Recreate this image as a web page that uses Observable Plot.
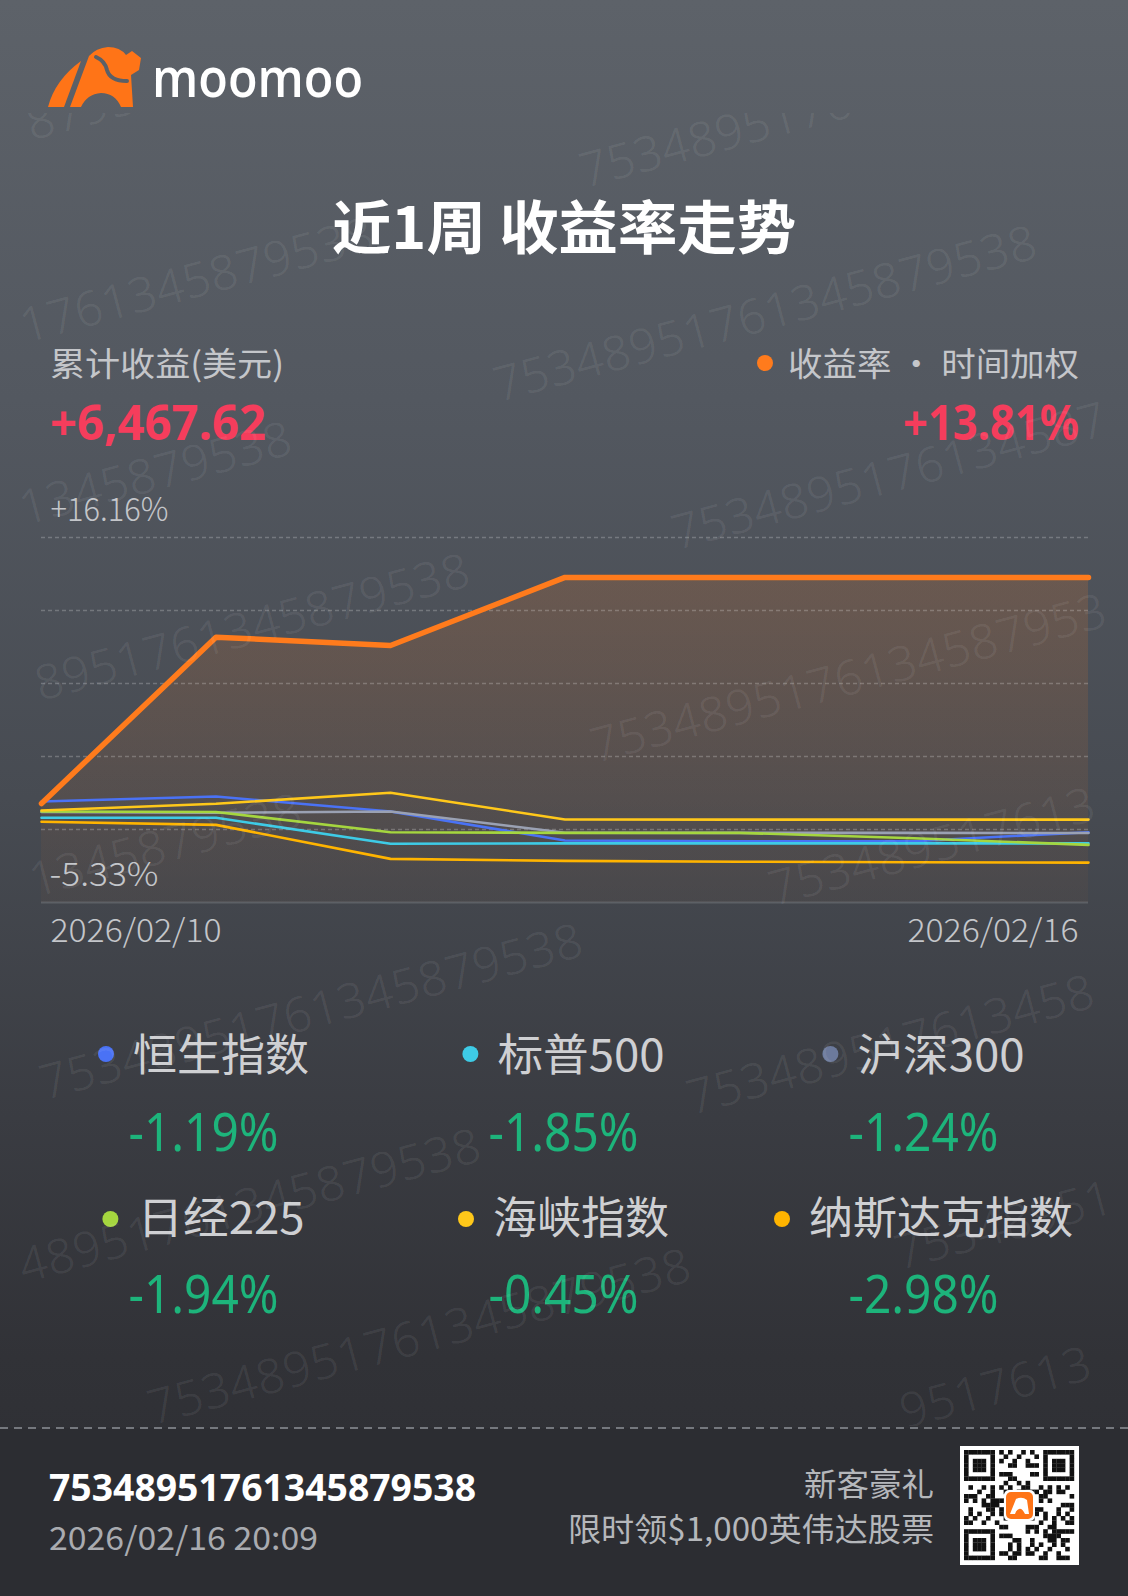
<!DOCTYPE html>
<html><head><meta charset="utf-8">
<script src="https://cdn.jsdelivr.net/npm/d3@7"></script>
<script src="https://cdn.jsdelivr.net/npm/@observablehq/plot@0.6"></script>
<style>
html,body{margin:0;padding:0;background:#2c2d32;}
#page{position:relative;width:1128px;height:1596px;overflow:hidden;
  background:linear-gradient(180deg,#5d6269 0%,#535860 25%,#474b52 50%,#3a3c42 70%,#313237 85%,#2c2d32 100%);}
#deco,#wm{position:absolute;left:0;top:0;}
#wm{pointer-events:none;}
#chart{position:absolute;left:0;top:480px;}
text{font-family:"Noto Sans CJK SC","Noto Sans",sans-serif;}
</style></head>
<body>
<div id="page">
  <svg id="deco" width="1128" height="1596"></svg>
  <div id="chart"></div>
  <svg id="wm" width="1128" height="1596"></svg>
</div>
<script>
// ---------------- data ----------------
const dates = ["2026/02/10","2026/02/11","2026/02/12","2026/02/13","2026/02/14","2026/02/15","2026/02/16"];
const portfolioReturn = [0.5, 10.29, 9.80, 13.81, 13.81, 13.81, 13.81];
const indexNames = ["恒生指数","标普500","沪深300","日经225","海峡指数","纳斯达克指数"];
const indexColors = ["#4a72f5","#3ecbe6","#9aa1b3","#a5d63f","#ffc81a","#ffb400"];
const indexDotColors = ["#4a72f5","#3ecbe6","#6c7a9c","#a5d63f","#ffc81a","#ffb400"];
const indexChangeLabels = ["-1.19%","-1.85%","-1.24%","-1.94%","-0.45%","-2.98%"];
const hsi    = [0.62, 0.91, 0.03, -1.68, -1.72, -1.72, -1.19];
const spx    = [-0.34, -0.34, -1.87, -1.85, -1.85, -1.85, -1.85];
const csi300 = [0.00, -0.05, 0.03, -1.22, -1.23, -1.23, -1.24];
const nikkei = [0.03, 0.00, -1.19, -1.23, -1.23, -1.55, -1.94];
const strait = [0.09, 0.48, 1.13, -0.44, -0.45, -0.45, -0.45];
const nasdaq = [-0.58, -0.76, -2.76, -2.88, -2.93, -2.96, -2.98];
const yMax = 16.16, yMin = -5.33;
const yTopLabel = "+16.16%", yBottomLabel = "-5.33%";
const totalProfitLabel = "累计收益(美元)", totalProfit = "+6,467.62";
const rateLabel = "收益率 · 时间加权", rateValue = "+13.81%";
const title = "近1周 收益率走势";
const accountId = "75348951761345879538";
const stamp = "2026/02/16 20:09";
const promo1 = "新客豪礼", promo2 = "限时领$1,000英伟达股票";

// ---------------- decoration ----------------
const deco = d3.select("#deco");
function txt(s, x, y, o = {}) {
  const t = deco.append("text").attr("x", x).attr("y", y).text(s)
    .attr("font-size", o.size || 30).attr("fill", o.fill || "#fff")
    .attr("font-weight", o.weight || 400).attr("text-anchor", o.anchor || "start");
  if (o.len) t.attr("textLength", o.len).attr("lengthAdjust", "spacingAndGlyphs");
  if (o.family) t.style("font-family", o.family);
  return t;
}
// logo
const logo = deco.append("g");
logo.append("path").attr("d", "M48,107 Q55,80 81,61 L64,107 Z").attr("fill", "#ff7417");
logo.append("path").attr("d",
  "M70,107 L89,56 Q96,48 108,47 Q120,47 126,55 L132,51 L141,58 L139,70 L131,75 L133,107 L121,107 Q115,93 101,93 Q87,94 81,107 Z")
  .attr("fill", "#ff7417");
logo.append("path").attr("d", "M96,57 Q105,61 107,70 Q110,81 127,81").attr("fill", "none")
  .attr("stroke", "#5b6067").attr("stroke-width", 4).attr("stroke-linecap", "round");
txt("moomoo", 152, 97, {size: 54, weight: 600, len: 211, family: "'Open Sans',sans-serif"});

// title
txt(title, 332, 249, {size: 58, weight: 700, len: 464});

// summary
txt(totalProfitLabel, 50, 376, {size: 33, fill: "#c4c6ca", len: 234});
txt(totalProfit, 50, 440, {size: 48, weight: 700, fill: "#f53d5c", len: 216, family: "'Noto Sans',sans-serif"});
deco.append("circle").attr("cx", 765).attr("cy", 363).attr("r", 8).attr("fill", "#ff7b1c");
txt(rateLabel, 1079, 376, {size: 33, fill: "#c4c6ca", anchor: "end", len: 291});
txt(rateValue, 1079, 440, {size: 48, weight: 700, fill: "#f53d5c", anchor: "end", len: 176, family: "'Noto Sans',sans-serif"});

// legend
function nameWidth(s) { let w = 0; for (const c of s) w += /[0-9]/.test(c) ? 26.4 : 44; return w; }
const colCenters = [203.5, 563.5, 923.5];
const rowNameBase = [1071, 1234], rowDotY = [1054, 1219], rowValBase = [1151, 1313];
indexNames.forEach((n, k) => {
  const col = k % 3, row = Math.floor(k / 3);
  const w = nameWidth(n), gw = 16 + 19 + w, left = colCenters[col] - gw / 2;
  deco.append("circle").attr("cx", left + 8).attr("cy", rowDotY[row]).attr("r", 8).attr("fill", indexDotColors[k]);
  txt(n, left + 35, rowNameBase[row], {size: 44, fill: "#cfd0d3", len: w});
  txt(indexChangeLabels[k], colCenters[col], rowValBase[row], {size: 52, fill: "#1db47b", anchor: "middle", family: "'Noto Sans',sans-serif"})
    .attr("textLength", 150).attr("lengthAdjust", "spacingAndGlyphs");
});

// footer
deco.append("rect").attr("x", 0).attr("y", 1428).attr("width", 1128).attr("height", 168).attr("fill", "#2c2d32");
deco.append("line").attr("x1", 0).attr("x2", 1128).attr("y1", 1428).attr("y2", 1428)
  .attr("stroke", "#75787e").attr("stroke-width", 2).attr("stroke-dasharray", "8,6");
txt(accountId, 49, 1501, {size: 38, weight: 700, len: 427, family: "'Noto Sans',sans-serif"});
txt(stamp, 49, 1550, {size: 32, fill: "#a9abb0", len: 269});
txt(promo1, 934, 1496, {size: 32, fill: "#b5b7bb", anchor: "end", len: 130});
txt(promo2, 934, 1541, {size: 32, fill: "#b5b7bb", anchor: "end", len: 366});
// QR-like badge
const qr = deco.append("g").attr("transform", "translate(960,1446)");
qr.append("rect").attr("width", 119).attr("height", 119).attr("fill", "#fff");
const N = 25, m = 4.4, off = 4;
for (let i = 0; i < N; i++) for (let j = 0; j < N; j++) {
  const inF = (a, b) => a < 7 && b < 7;
  let on;
  const fi = [[i, j], [i, N - 1 - j], [N - 1 - i, j]].find(([a, b]) => inF(a, b));
  if (fi) { const [a, b] = fi; on = (a === 0 || a === 6 || b === 0 || b === 6 || (a >= 2 && a <= 4 && b >= 2 && b <= 4)); }
  else if ((i < 8 && j < 8) || (i < 8 && j > N - 9) || (i > N - 9 && j < 8)) on = false;
  else on = ((i * 31 + j * 17 + (i * j) % 7) % 5) < 2;
  if (on) qr.append("rect").attr("x", off + j * m).attr("y", off + i * m).attr("width", m + 0.2).attr("height", m + 0.2).attr("fill", "#111");
}
qr.append("rect").attr("x", 44).attr("y", 44).attr("width", 31).attr("height", 31).attr("rx", 5).attr("fill", "#fff");
qr.append("rect").attr("x", 46).attr("y", 46).attr("width", 27).attr("height", 27).attr("rx", 5).attr("fill", "#ff7417");
qr.append("path").attr("d", "M50,68 L56,53 Q62,50 67,54 L69,68 L65,68 Q62,62 59,63 Q56,64 55,68 Z").attr("fill", "#fff");

// ---------------- chart ----------------
const idx = d3.range(dates.length);
const portfolioData = idx.map(i => ({i, v: portfolioReturn[i]}));
const indexSeries = [hsi, spx, csi300, nikkei, strait, nasdaq];
const indexData = indexNames.flatMap((name, k) => idx.map(i => ({i, v: indexSeries[k][i], name})));
const gridValues = d3.range(6).map(k => yMax - k * (yMax - yMin) / 5);

const chart = Plot.plot({
  width: 1128, height: 480,
  marginLeft: 41, marginRight: 40, marginTop: 57, marginBottom: 58,
  x: {domain: [0, dates.length - 1], axis: null},
  y: {domain: [yMin, yMax], axis: null},
  color: {domain: indexNames, range: indexColors},
  style: {background: "transparent", overflow: "visible"},
  marks: [
    Plot.areaY(portfolioData, {x: "i", y1: yMin, y2: "v", fill: "url(#areaGrad)"}),
    Plot.ruleY(gridValues.slice(0, 5), {stroke: "rgba(255,255,255,0.22)", strokeWidth: 1.5, strokeDasharray: "4,3"}),
    Plot.ruleY([yMin], {stroke: "rgba(255,255,255,0.14)", strokeWidth: 2}),
    Plot.line(indexData, {x: "i", y: "v", z: "name", stroke: "name", strokeWidth: 2.6, strokeLinejoin: "round"}),
    Plot.line(portfolioData, {x: "i", y: "v", stroke: "#ff7b1c", strokeWidth: 5.5, strokeLinecap: "round", strokeLinejoin: "round"}),
    Plot.text([yMax], {x: 0, y: d => d, text: () => yTopLabel, dx: 9, dy: -27, textAnchor: "start", fill: "#c4c6ca", fontSize: 33, fontWeight: 300}),
    Plot.text([yMin], {x: 0, y: d => d, text: () => yBottomLabel, dx: 8, dy: -27, textAnchor: "start", fill: "#c4c6ca", fontSize: 33, fontWeight: 300}),
    Plot.text([0], {x: d => d, y: yMin, text: () => dates[0], dx: 9, dy: 29, textAnchor: "start", fill: "#c4c6ca", fontSize: 32, fontWeight: 300}),
    Plot.text([dates.length - 1], {x: d => d, y: yMin, text: () => dates[dates.length - 1], dx: -10, dy: 29, textAnchor: "end", fill: "#c4c6ca", fontSize: 32, fontWeight: 300})
  ]
});
const defs = d3.select(chart).insert("defs", ":first-child");
const g = defs.append("linearGradient").attr("id", "areaGrad").attr("x1", 0).attr("y1", 0).attr("x2", 0).attr("y2", 1);
g.append("stop").attr("offset", "0%").attr("stop-color", "#ff7b1c").attr("stop-opacity", 0.16);
g.append("stop").attr("offset", "100%").attr("stop-color", "#ff7b1c").attr("stop-opacity", 0.03);
const labelLen = {[yTopLabel]: 118, [yBottomLabel]: 109, [dates[0]]: 171, [dates[dates.length - 1]]: 171};
d3.select(chart).selectAll("text")
  .style("font-family", "'Noto Sans CJK SC','Noto Sans',sans-serif")
  .each(function () {
    const L = labelLen[this.textContent];
    if (L) d3.select(this).attr("textLength", L).attr("lengthAdjust", "spacingAndGlyphs");
  });
document.getElementById("chart").appendChild(chart);

// ---------------- watermark (only glyphs inside the card) ----------------
const wm = d3.select("#wm");
wm.append("clipPath").attr("id", "wmClip").append("rect").attr("x", 0).attr("y", 113).attr("width", 1128).attr("height", 1313);
const wg = wm.append("g").attr("clip-path", "url(#wmClip)");
const wmStarts = [[-347,242],[585,188],[-164,394],[499,402],[-246,598],[677,550],[-68,730],[596,763],
  [-236,970],[774,906],[45,1100],[692,1115],[-57,1305],[900,1270],[153,1425],[770,1465]];
const step = 28, ca = Math.cos(15 * Math.PI / 180), sa = Math.sin(15 * Math.PI / 180);
wmStarts.forEach(([x, y]) => {
  [...accountId].forEach((c, i) => {
    const cx = x + i * step * ca, cy = y - i * step * sa;
    if (cx < 18 || cx + 32 > 1124 || cy - 40 < 60 || cy + 4 > 1440) return;
    wg.append("text").attr("transform", `translate(${cx.toFixed(1)},${cy.toFixed(1)}) rotate(-15)`).text(c)
      .attr("font-size", 48).attr("font-weight", 300).attr("fill", "rgba(255,255,255,0.085)")
      .style("font-family", "'Noto Sans',sans-serif");
  });
});
</script>
</body></html>
